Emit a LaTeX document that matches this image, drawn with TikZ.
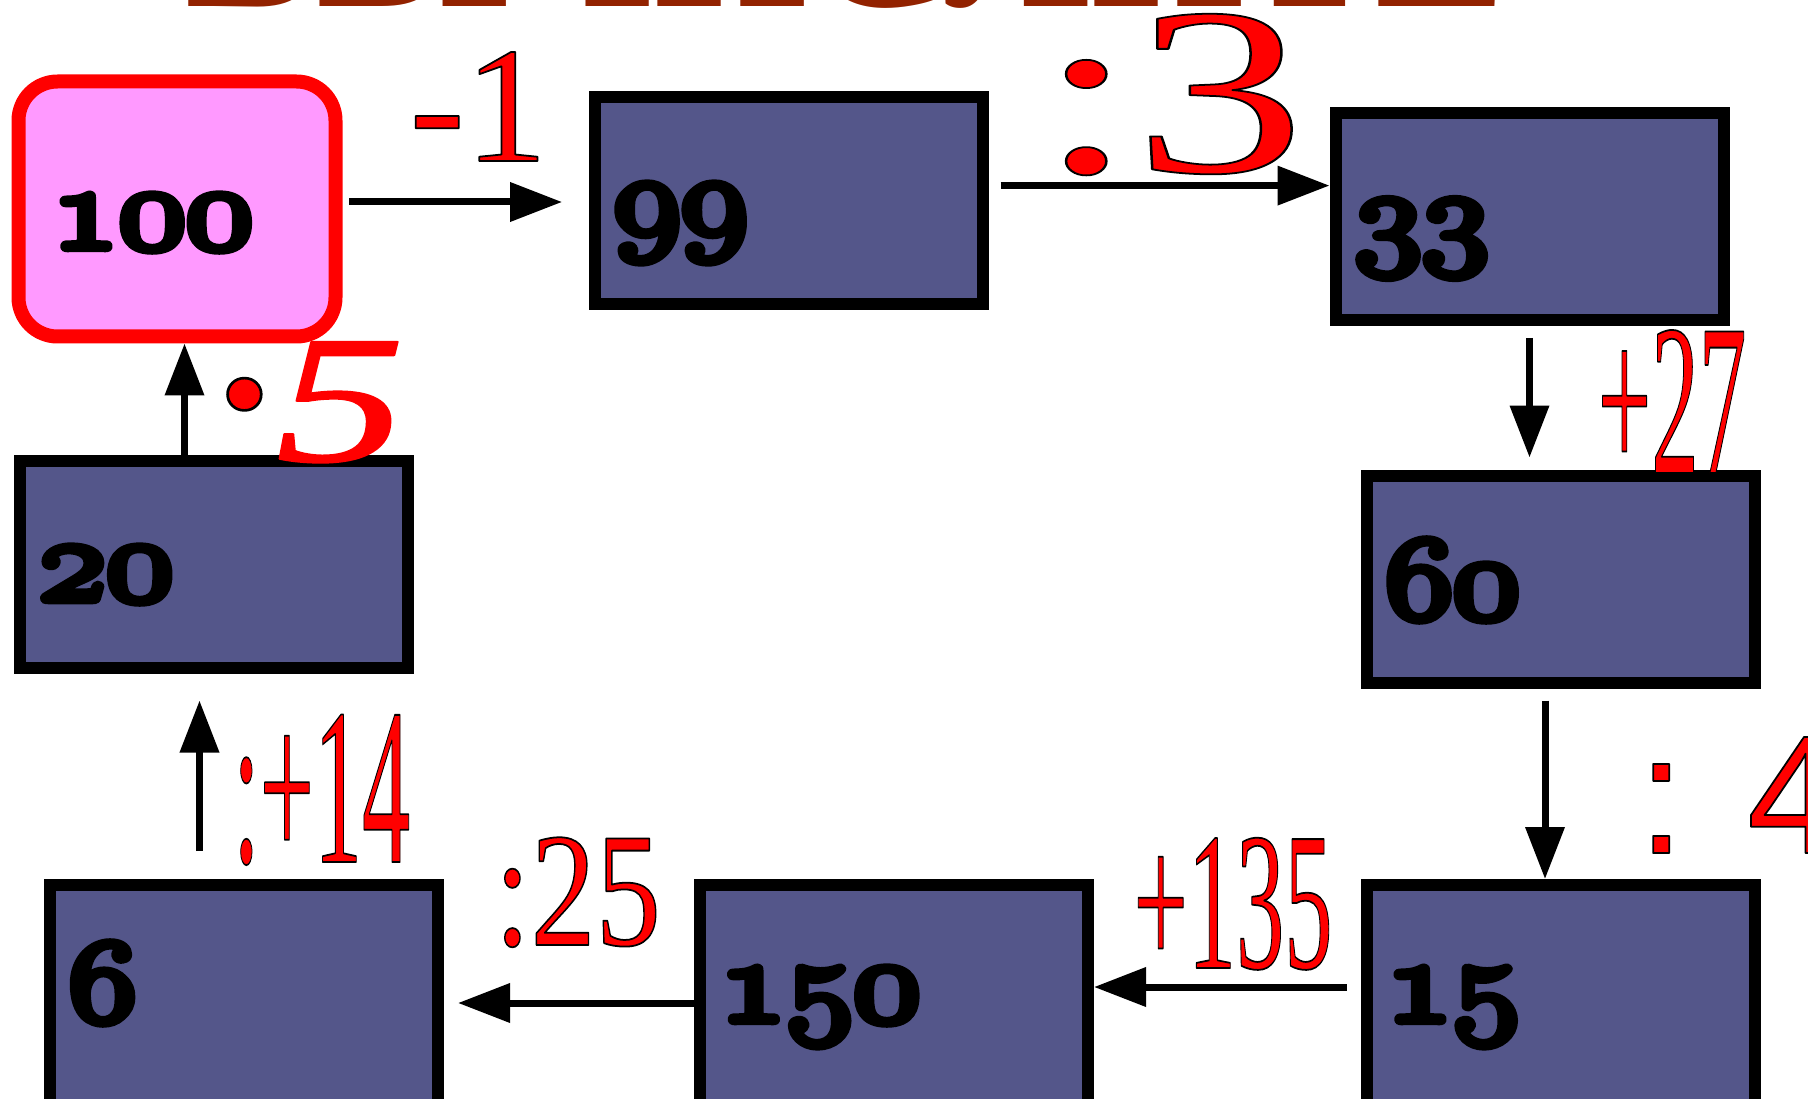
\documentclass[tikz,border=0pt]{standalone}
\usepackage{fontspec}
\setmainfont{Liberation Serif}
\newfontfamily\sansf{Liberation Sans}
\usepackage{graphicx}
\usetikzlibrary{arrows.meta}
\definecolor{boxblue}{RGB}{84,86,138}
\definecolor{boxpink}{RGB}{255,153,255}
\definecolor{titlered}{RGB}{146,34,0}
% filled glyphs with a thin black outline
\newcommand\outl[2]{\special{pdf:literal direct 2 Tr 1 j #1 w 0 0 0 RG}#2\special{pdf:literal direct 0 Tr}}
\newcommand\boxnum[2][-3.6mm]{\raisebox{#1}[0pt][0pt]{\scalebox{1.57}[1.35]{\fontsize{42}{42}\usefont{OML}{lmm}{b}{it}\outl{1.8}{#2}}}}
\newcommand\op[3]{\scalebox{#1}[1]{\fontsize{#2}{#2}\selectfont\outl{0.5}{#3}}}

\begin{document}
\begin{tikzpicture}[x=0.1mm, y=-0.1mm,
    box/.style={draw=black, line width=1.2mm, fill=boxblue, minimum width=38.8mm, minimum height=20.7mm, inner xsep=1.9mm, text width=35mm, align=left},
    lowbox/.style={box, minimum height=22.8mm},
    startbox/.style={draw=red, line width=1.4mm, fill=boxpink, rounded corners=3.9mm, minimum width=31.7mm, minimum height=25.5mm, inner xsep=3.3mm, text width=25.1mm, align=left},
    op/.style={text=red, inner sep=0pt, anchor=base},
    title/.style={text=titlered, font=\fontsize{56}{56}\selectfont\bfseries, anchor=base, inner sep=0pt},
    arr/.style={-{Triangle[length=5.2mm, width=3.8mm]}, line width=0.7mm}]
  \useasboundingbox (0,0) rectangle (1808,1099);
  \node[title] (ttl) at (846,7) {ВЫЧИСЛИТЕ};
  % chain of boxes
  \node[startbox] (n100) at (177,209) {\boxnum[-3.9mm]{100}};
  \node[box] (n99) at (788.5,201) {\boxnum{99}};
  \node[box] (n33) at (1529.5,216.5) {\boxnum{33}};
  \node[box] (n60) at (1560.5,579) {\boxnum[-3.9mm]{60}};
  \node[lowbox] (n15) at (1560.5,999) {\boxnum[-2.2mm]{15}};
  \node[lowbox] (n150) at (894,999) {\boxnum[-2.2mm]{150}};
  \node[lowbox] (n6) at (244,999) {\boxnum[-2.2mm]{6}};
  \node[box] (n20) at (214,564) {\boxnum{20}};
  % arrows
  \draw[arr, shorten <=0.65mm, shorten >=2.64mm] ([yshift=0.7mm]n100.east) -- ([yshift=0.7mm]n100.east -| n99.west);
  \draw[arr, shorten <=1.2mm] ([yshift=1.54mm]n99.east) -- ([yshift=1.54mm]n99.east -| n33.west);
  \draw[arr, shorten <=1.2mm, shorten >=1.2mm] (n33.south) -- (n33.south |- n60.north);
  \draw[arr, shorten <=1.2mm] ([xshift=-1.55mm]n60.south) -- ([xshift=-1.55mm]n60.south |- n15.north);
  \draw[arr, shorten <=1.4mm] ([yshift=1.2mm]n15.west) -- ([yshift=1.2mm]n15.west -| n150.east);
  \draw[arr, shorten >=1.4mm] ([yshift=-0.4mm]n150.west) -- ([yshift=-0.4mm]n150.west -| n6.east);
  \draw[arr, shorten <=2.8mm, shorten >=2.7mm] ([xshift=-4.45mm]n6.north) -- ([xshift=-4.45mm]n6.north |- n20.south);
  \draw[arr] ([xshift=-2.95mm]n20.north) -- ([xshift=-2.95mm]n20.north |- n100.south);
  % operations
  \node[op] (m1) at (478.5,161) {\op{1}{47}{-1}};
  \node[op] (d3) at (1172,172) {\op{1.43}{68}{:3}};
  \node[op] (p27) at (1672,473) {\op{0.44}{61.5}{+27}};
  \node[op, anchor=base west] (d4) at (1637,853) {\sansf\op{1}{48}{: 4}};
  \node[op] (p135) at (1233,968) {\op{0.49}{56}{+135}};
  \node[op] (d25) at (577.6,945) {\op{0.8}{46.3}{:25}};
  \node[op] (dp14) at (321.6,862) {\op{0.43}{63.6}{:+14}};
  \node[op, anchor=base west] (t5) at (204,461) {\itshape\op{1.42}{51.8}{\raisebox{-0.13em}{\scalebox{1.1}[1.5]{·}}5}};
\end{tikzpicture}
\end{document}
